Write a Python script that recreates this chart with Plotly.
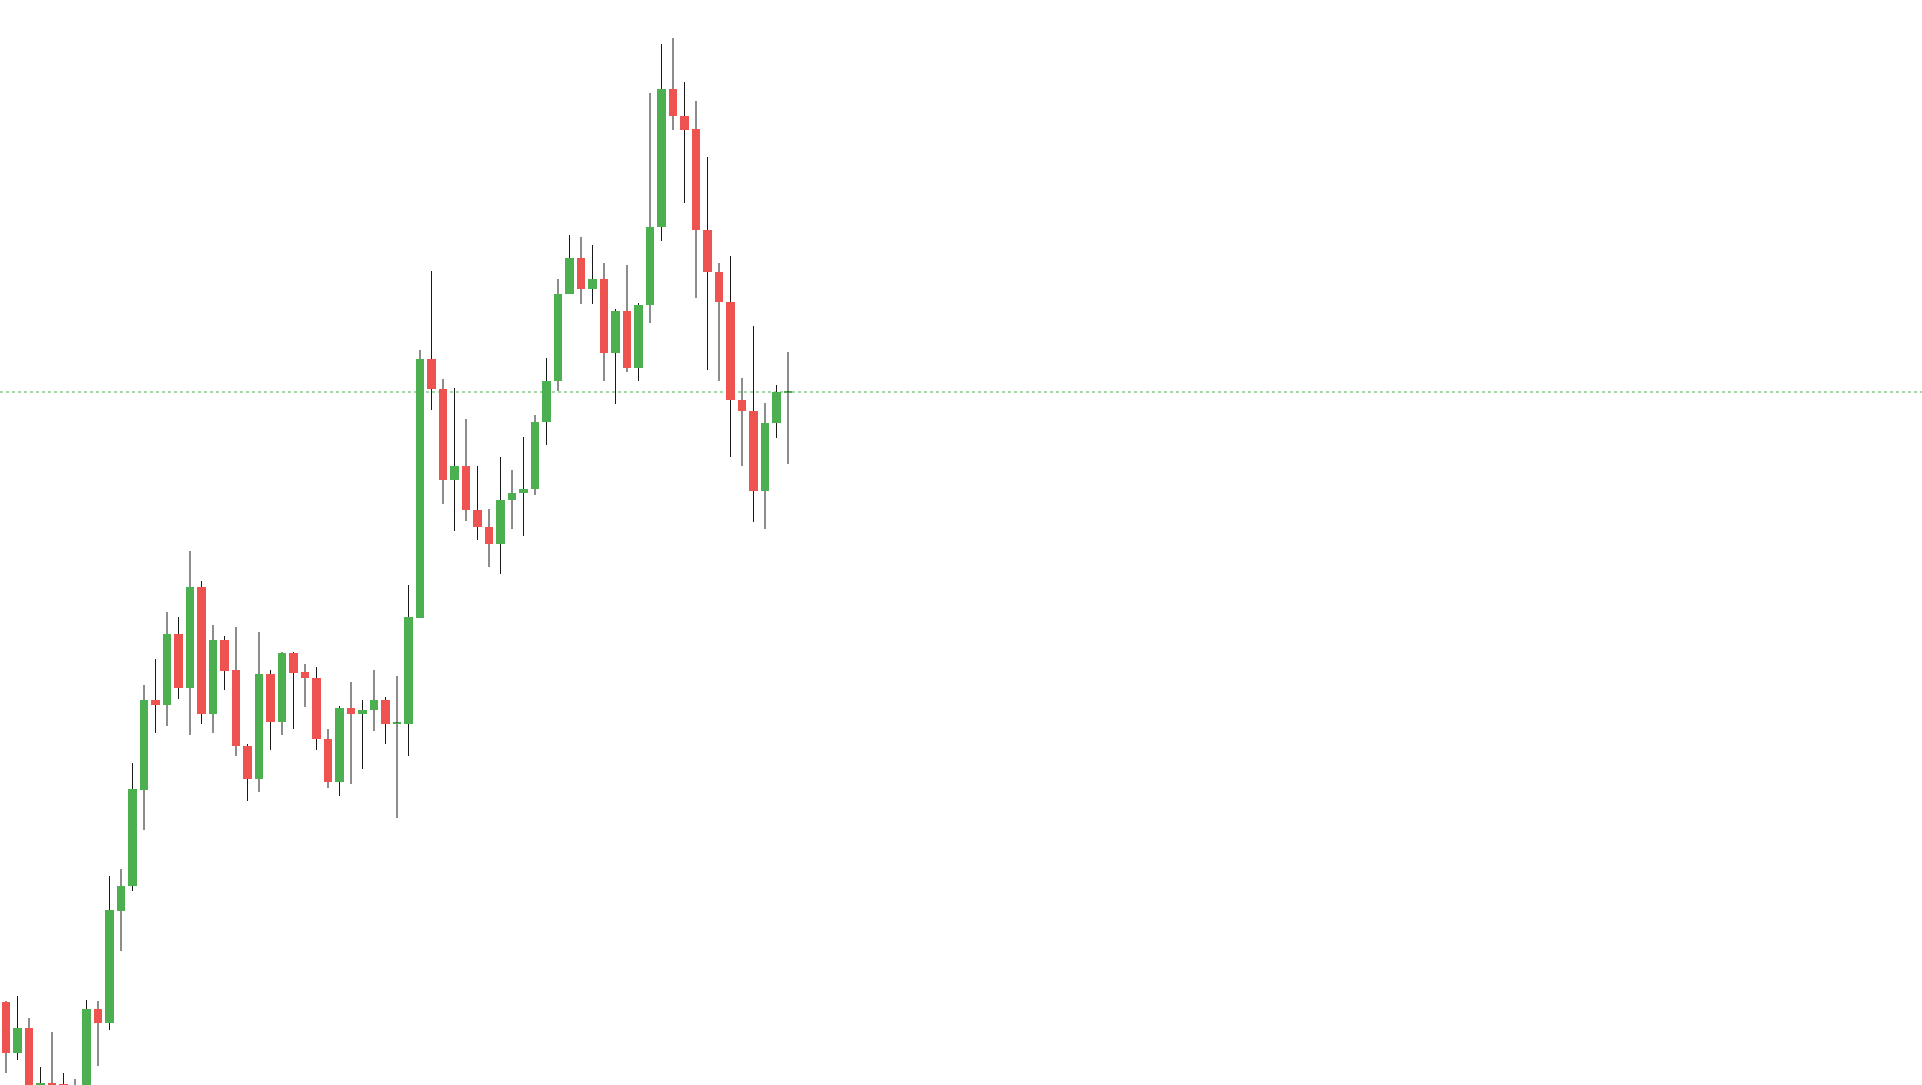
import plotly.graph_objects as go

# Candle index (time order) and OHLC values (arbitrary price units)
idx = list(range(69))
open_ = [19.8, 14.7, 17.2, 10.4, 11.7, 11.6, 10.9, 10.6, 19.1, 17.7,
         28.9, 31.4, 41.0, 50.0, 49.5, 56.6, 51.2, 61.3, 48.6, 56.0,
         53.0, 45.4, 42.1, 52.6, 47.8, 54.7, 52.8, 52.2, 46.1, 41.8,
         49.2, 48.6, 49.0, 50.0, 47.6, 47.6, 58.2, 84.1, 81.1, 72.0,
         73.4, 69.0, 67.3, 65.6, 70.0, 70.7, 71.1, 77.8, 81.9, 90.6,
         94.2, 91.1, 92.1, 84.7, 88.9, 83.2, 89.5, 97.3, 111.1, 108.4,
         107.1, 97.0, 92.8, 89.8, 80.0, 78.9, 70.9, 77.7, 80.75]
high = [19.9, 20.4, 18.2, 13.3, 16.8, 12.7, 12.1, 20.0, 19.9, 32.4,
        33.1, 43.7, 51.5, 54.1, 58.8, 58.3, 64.9, 61.9, 57.5, 56.4,
        57.3, 45.6, 56.8, 53.0, 54.8, 54.8, 53.6, 53.3, 47.1, 49.4,
        51.8, 50.0, 53.0, 50.3, 52.4, 61.5, 85.0, 92.9, 82.1, 81.2,
        78.1, 73.4, 69.1, 74.3, 73.0, 76.3, 78.5, 84.2, 92.1, 96.5,
        96.3, 95.5, 93.7, 89.1, 93.5, 89.7, 110.7, 115.6, 116.2, 111.8,
        109.9, 104.3, 93.7, 94.4, 82.2, 87.4, 79.7, 81.5, 84.8]
low = [12.7, 14.0, 9.5, 9.8, 10.2, 10.3, 9.9, 10.0, 13.4, 17.0,
       24.9, 30.9, 37.0, 46.7, 47.4, 50.1, 46.5, 47.6, 46.7, 51.0,
       44.4, 39.9, 40.8, 45.0, 46.5, 47.1, 49.3, 45.0, 41.2, 40.4,
       41.6, 43.1, 46.9, 45.6, 38.2, 44.4, 58.2, 79.0, 69.6, 66.9,
       67.9, 66.0, 63.3, 62.6, 67.1, 66.4, 70.5, 75.5, 80.9, 90.6,
       89.6, 89.6, 81.9, 79.6, 82.8, 81.9, 87.7, 95.9, 107.0, 99.7,
       90.2, 83.0, 81.9, 74.3, 73.4, 67.8, 67.1, 76.2, 73.6]
close = [14.7, 17.2, 10.5, 11.7, 10.8, 10.9, 10.6, 19.1, 17.7, 29.0,
         31.4, 41.1, 50.0, 49.5, 56.6, 51.2, 61.3, 48.6, 56.0, 52.9,
         45.4, 42.1, 52.6, 47.8, 54.7, 52.7, 52.2, 46.1, 41.8, 49.2,
         48.6, 49.0, 50.0, 47.6, 47.7, 58.3, 84.1, 81.1, 72.0, 73.4,
         69.0, 67.3, 65.6, 70.0, 70.7, 71.1, 77.8, 81.9, 90.6, 94.2,
         91.1, 92.1, 84.7, 88.9, 83.2, 89.5, 97.3, 111.1, 108.4, 107.0,
         97.0, 92.8, 89.8, 80.0, 78.9, 70.9, 77.7, 80.8, 80.8]

UP = "#4caf50"
DOWN = "#ef5350"
WICK = "#1a1a1a"
MIN_BODY = 0.15

# wick segments (upper and lower shadows only, so they never cross the bodies)
wx, wy = [], []
for i, o, h, l, c in zip(idx, open_, high, low, close):
    top, bot = max(o, c), min(o, c)
    if h > top:
        wx += [i, i, None]
        wy += [top, h, None]
    if l < bot:
        wx += [i, i, None]
        wy += [l, bot, None]

body_base = [min(o, c) for o, c in zip(open_, close)]
body_h = [max(abs(c - o), MIN_BODY) for o, c in zip(open_, close)]
body_col = [UP if c >= o else DOWN for o, c in zip(open_, close)]

fig = go.Figure()
fig.add_trace(go.Bar(x=idx, y=body_h, base=body_base, width=0.78,
                     marker=dict(color=body_col, line=dict(width=0)),
                     customdata=list(zip(open_, high, low, close)),
                     hovertemplate="O %{customdata[0]}<br>H %{customdata[1]}<br>L %{customdata[2]}<br>C %{customdata[3]}<extra></extra>",
                     showlegend=False))
fig.add_trace(go.Scatter(x=wx, y=wy, mode="lines",
                         line=dict(color=WICK, width=1),
                         hoverinfo="skip", showlegend=False))

fig.add_hline(y=close[-1], line=dict(color=UP, width=1, dash="dot"), layer="below")

fig.update_layout(
    width=1922, height=1085,
    margin=dict(l=0, r=0, t=0, b=0),
    paper_bgcolor="white", plot_bgcolor="white",
    bargap=0,
    xaxis=dict(range=[-0.522, 166.61], visible=False, showgrid=False, zeroline=False, fixedrange=True),
    yaxis=dict(range=[11.5, 120.0], visible=False, showgrid=False, zeroline=False, fixedrange=True),
    showlegend=False,
)

fig.write_html("out.html", config={"displayModeBar": False},
               post_script="document.body.style.margin='0';document.body.style.overflow='hidden';")
